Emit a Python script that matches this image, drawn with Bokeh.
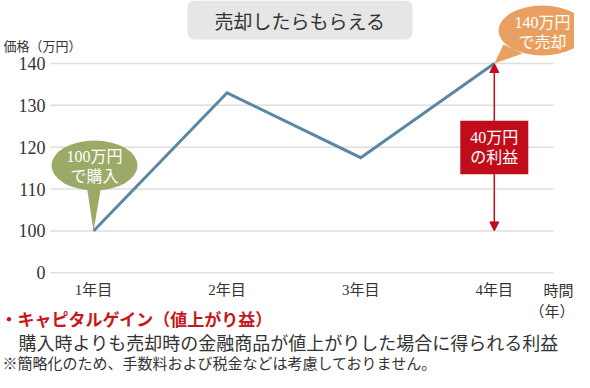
from bokeh.plotting import figure
from bokeh.models import Range1d, LinearAxis, FixedTicker, Label, Arrow, NormalHead
from bokeh.embed import file_html
from bokeh.resources import INLINE

# ---- data ----
years = ["1年目", "2年目", "3年目", "4年目"]
prices = [100, 133, 117.5, 140]
y_tick_values = [0, 100, 110, 120, 130, 140]
y_tick_labels = ["0", "100", "110", "120", "130", "140"]
buy_price = 100
sell_price = 140

FONT = "Liberation Serif, Noto Sans CJK JP"
JP = "Noto Sans CJK JP"
TXT = "#333333"
LINE = "#5a87a4"
GREEN = "#9caa68"
ORANGE = "#e89f60"
RED = "#c10d1b"
GRID = "#dedede"

W, H = 574, 372


def t(v):
    # broken value axis: 0-100 is one step, then one step per 10
    return v / 100 if v <= 100 else 1 + (v - 100) / 10


# helpers mapping pixel positions to data space (used for annotation placement only)
X0, DX = 93.0, 133.6
Y0, DY = 272.3, 41.86


def px(xr):
    return 1 + (xr - X0) / DX


def py(yr):
    return (Y0 - yr) / DY


xs = list(range(1, len(years) + 1))
ys = [t(v) for v in prices]
yt = [t(v) for v in y_tick_values]

p = figure(width=W, height=H,
           x_range=Range1d(px(0), px(W)), y_range=Range1d(py(H), py(0)),
           x_axis_type=None, y_axis_type=None,
           toolbar_location=None, output_backend="svg",
           min_border=0, min_border_left=0, min_border_right=0,
           min_border_top=0, min_border_bottom=0,
           outline_line_color=None, background_fill_color="white", border_fill_color="white")

# axes (drawn at fixed locations inside the canvas)
yaxis = LinearAxis(ticker=FixedTicker(ticks=yt), fixed_location=px(50),
                   major_label_overrides={tv: lab for tv, lab in zip(yt, y_tick_labels)})
yaxis.axis_line_color = None
yaxis.major_tick_line_color = None
yaxis.minor_tick_line_color = None
yaxis.major_tick_out = 0
yaxis.major_tick_in = 0
yaxis.major_label_standoff = 5
yaxis.major_label_text_font = "Liberation Serif"
yaxis.major_label_text_font_size = "18px"
yaxis.major_label_text_color = TXT
p.add_layout(yaxis, "left")

xaxis = LinearAxis(ticker=FixedTicker(ticks=xs), fixed_location=py(274),
                   major_label_overrides={x: lab for x, lab in zip(xs, years)})
xaxis.axis_line_color = None
xaxis.major_tick_line_color = None
xaxis.minor_tick_line_color = None
xaxis.major_tick_out = 0
xaxis.major_tick_in = 0
xaxis.major_label_standoff = 7
xaxis.major_label_text_font = FONT
xaxis.major_label_text_font_size = "15px"
xaxis.major_label_text_color = TXT
p.add_layout(xaxis, "below")

# grid lines
p.segment(x0=[px(50)] * len(yt), x1=[px(553)] * len(yt), y0=yt, y1=yt,
          line_color=GRID, line_width=1.5)

# price line
p.line(xs, ys, line_color=LINE, line_width=3, line_join="miter")

# buy bubble (green)
p.ellipse(x=[px(94)], y=[py(165)], width=[86 / DX], height=[50 / DY],
          fill_color=GREEN, line_color=None)
p.patch([px(86), px(101), xs[0]], [py(184), py(184), t(buy_price)],
        fill_color=GREEN, line_color=None)
p.add_layout(Label(x=px(94), y=py(166), text="100万円\nで購入", text_align="center",
                   text_baseline="middle", text_font=FONT, text_font_size="16px",
                   text_color="white"))

# sell bubble (orange)
p.ellipse(x=[px(542)], y=[py(30)], width=[88 / DX], height=[50 / DY],
          fill_color=ORANGE, line_color=None)
p.patch([px(503), px(522), xs[-1]], [py(44), py(53), t(sell_price)],
        fill_color=ORANGE, line_color=None)
p.add_layout(Label(x=px(542), y=py(32), text="140万円\nで売却", text_align="center",
                   text_baseline="middle", text_font=FONT, text_font_size="16px",
                   text_color="white"))

# profit arrows and box
p.add_layout(Arrow(end=NormalHead(size=9, fill_color=RED, line_color=RED, line_width=1),
                   x_start=xs[-1], y_start=py(124), x_end=xs[-1], y_end=t(sell_price),
                   line_color=RED, line_width=1.5))
p.add_layout(Arrow(end=NormalHead(size=9, fill_color=RED, line_color=RED, line_width=1),
                   x_start=xs[-1], y_start=py(170), x_end=xs[-1], y_end=t(buy_price),
                   line_color=RED, line_width=1.5))
p.add_layout(Label(x=xs[-1], y=py(147), text="40万円\nの利益", text_align="center",
                   text_baseline="middle", text_font=FONT, text_font_size="16px",
                   text_color="white", background_fill_color=RED,
                   padding=(10, 8)))

# title box
p.add_layout(Label(x=px(299.5), y=py(19.5), text="売却したらもらえる", text_align="center",
                   text_baseline="middle", text_font=JP, text_font_size="19px",
                   text_color=TXT, background_fill_color="#e6e6e6",
                   border_radius=7, padding=(27, 6)))

# axis titles
p.add_layout(Label(x=px(3), y=py(45), text="価格（万円）", text_align="left",
                   text_baseline="middle", text_font=JP, text_font_size="13px",
                   text_color=TXT))
p.add_layout(Label(x=px(573), y=py(288.5), text="時間", text_align="right",
                   text_baseline="middle", text_font=JP, text_font_size="15px",
                   text_color=TXT))
p.add_layout(Label(x=px(574), y=py(310), text="（年）", text_align="right",
                   text_baseline="middle", text_font=JP, text_font_size="15px",
                   text_color=TXT))

# bottom notes
p.add_layout(Label(x=px(0), y=py(318), text="・キャピタルゲイン（値上がり益）", text_align="left",
                   text_baseline="middle", text_font=JP, text_font_size="17px",
                   text_font_style="bold", text_color="#c8161d"))
p.add_layout(Label(x=px(18), y=py(341),
                   text="購入時よりも売却時の金融商品が値上がりした場合に得られる利益",
                   text_align="left", text_baseline="middle", text_font=JP,
                   text_font_size="18px", text_color=TXT))
p.add_layout(Label(x=px(2), y=py(362),
                   text="※簡略化のため、手数料および税金などは考慮しておりません。",
                   text_align="left", text_baseline="middle", text_font=JP,
                   text_font_size="15px", text_color=TXT))

open("out.html", "w").write(file_html(p, INLINE))
